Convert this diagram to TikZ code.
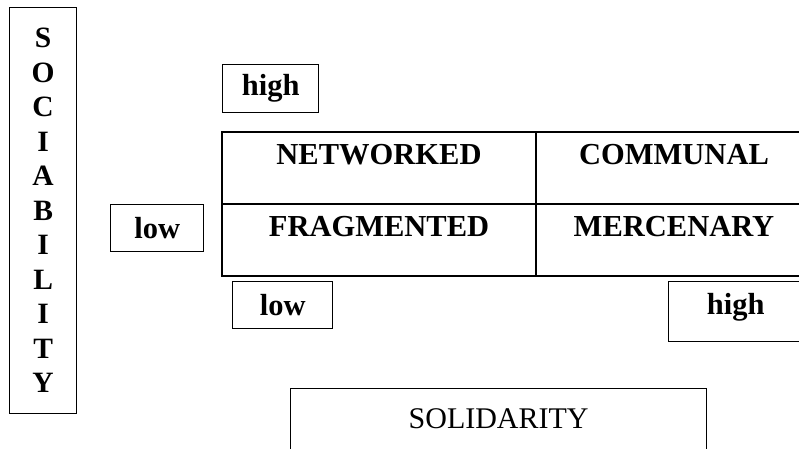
\documentclass[tikz,border=0pt]{standalone}
\usepackage{fontspec}
\setmainfont{Liberation Serif}
\usetikzlibrary{positioning}
\tikzset{box/.style = {draw, line width = 1.3pt, inner sep = 0, anchor = north west,
                       font = \bfseries\fontsize{30.5}{34}\selectfont}}
\tikzset{cell/.style = {draw, line width = 1.9pt, inner sep = 0, outer sep = 0, anchor = north west,
                        minimum height = 72pt, text height = 32pt, text depth = 40pt,
                        font = \bfseries\fontsize{30.5}{34}\selectfont}}

\begin{document}
\begin{tikzpicture}[x = 1pt, y = -1pt]
      \useasboundingbox (0, 0) rectangle (799, 448);
      \clip (0, 0) rectangle (799, 448);
      \node [box, minimum width = 67pt, minimum height = 406pt, align = center,
             font = \bfseries\fontsize{29.5}{34.5}\selectfont] (soc) at (9, 7)
            {S\\O\\C\\I\\A\\B\\I\\L\\I\\T\\Y};
      \node [box, minimum width = 96pt, minimum height = 48pt] (highy) at (222, 64) {high};
      \node [box, minimum width = 93pt, minimum height = 47pt] (lowy) at (110, 204) {low};
      \node [cell, minimum width = 314pt] (networked) at (222, 132) {NETWORKED};
      \node [cell, minimum width = 276pt] (communal) at (networked.north east) {COMMUNAL};
      \node [cell, minimum width = 314pt] (fragmented) at (networked.south west) {FRAGMENTED};
      \node [cell, minimum width = 276pt] (mercenary) at (fragmented.north east) {MERCENARY};
      \node [box, minimum width = 100pt, minimum height = 47pt] (lowx) at (232, 281) {low};
      \node [box, minimum width = 134pt, text height = 33pt, text depth = 27pt] (highx) at (668, 281) {high};
      \node [box, minimum width = 416pt, text height = 40pt, text depth = 24pt,
             font = \fontsize{30}{34}\selectfont] (solid) at (290, 388) {SOLIDARITY};
    \end{tikzpicture}
\end{document}
